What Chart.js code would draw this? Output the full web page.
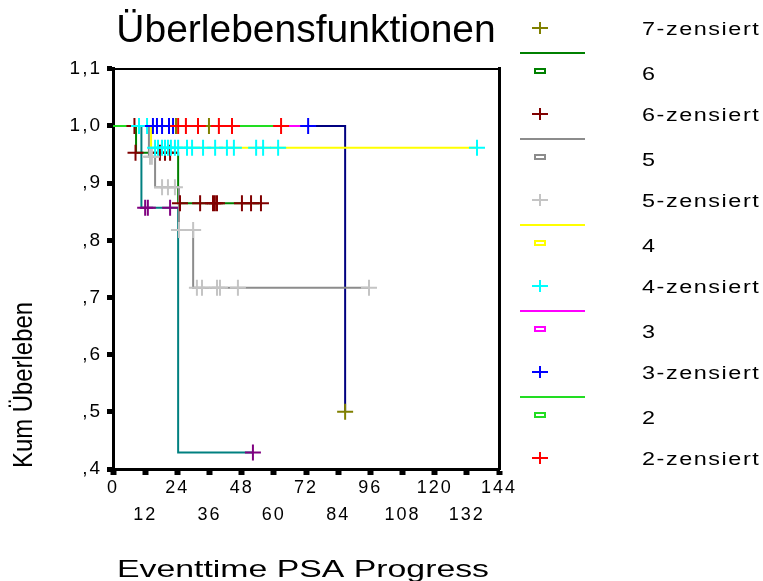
<!DOCTYPE html>
<html lang="de">
<head>
<meta charset="UTF-8">
<title>Überlebensfunktionen</title>
<script src="https://cdn.jsdelivr.net/npm/chart.js"></script>
<style>
  body { margin: 0; background: #fff; font-family: "Liberation Sans", Arial, sans-serif; }
  #wrap { position: relative; width: 763px; height: 581px; }
  #legend { position: absolute; left: 0; top: 0; width: 763px; height: 478px; overflow: hidden; pointer-events: none; }
  .sep { position: absolute; left: 520px; width: 65px; height: 2px; }
  .box { position: absolute; left: 534px; width: 8px; height: 2px; border: 2px solid; }
  .plus { position: absolute; left: 532px; width: 16px; height: 12px; }
  .plus::before, .plus::after { content: ''; position: absolute; background: currentColor; }
  .plus::before { left: 0; top: 5px; width: 16px; height: 2px; }
  .plus::after { left: 7px; top: 0; width: 2px; height: 12px; }
  .lbl { position: absolute; left: 642px; font-size: 18px; line-height: 20px; letter-spacing: 1.2px;
         transform: scaleX(1.3); transform-origin: left center; white-space: nowrap; color: #000; }
</style>
</head>
<body>
<div id="wrap">
  <canvas id="km" width="763" height="581"></canvas>
  <div id="legend"></div>
</div>

<script>
// Gruppen und Farben
const groupNames = ['1', '2', '3', '4', '5', '6', '7'];
const lineColors = ['#008080', '#22dd22', '#ff00ff', '#ffff00', '#8c8c8c', '#008000', '#000080'];
const censorColors = ['#800080', '#ff0000', '#0000ff', '#00ffff', '#c4c4c4', '#800000', '#808000'];

const xTitle = 'Eventtime PSA Progress';
const yTitle = 'Kum Überleben';

// Gruppe 1
const g1Time = [0, 10.6, 24.3, 52.2];
const g1Surv = [1, 0.857, 0.429, 0.429];
const g1CensTime = [12, 13, 21.3, 52.2];
const g1CensSurv = [0.857, 0.857, 0.857, 0.429];

// Gruppe 2
const g2Time = [0, 62.7];
const g2Surv = [1, 1];
const g2CensTime = [24.3, 27.2, 31.7, 39.5, 44.4, 62.7];
const g2CensSurv = [1, 1, 1, 1, 1, 1];

// Gruppe 3
const g3Time = [0, 72.8];
const g3Surv = [1, 1];
const g3CensTime = [14.9, 16.4, 18.3, 20.9, 22.4, 72.8];
const g3CensSurv = [1, 1, 1, 1, 1, 1];

// Gruppe 4
const g4Time = [0, 14.2, 135.8];
const g4Surv = [1, 0.962, 0.962];
const g4CensTime = [9.7, 12.7, 15.7, 16.8, 18.3, 19.4, 20.5, 21.6, 23.1, 24.3, 27.6, 29.5,
                    33.6, 38.1, 42.5, 45.1, 53.4, 56.0, 61.6, 135.8];
const g4CensSurv = [1, 1, 0.962, 0.962, 0.962, 0.962, 0.962, 0.962, 0.962, 0.962, 0.962, 0.962,
                    0.962, 0.962, 0.962, 0.962, 0.962, 0.962, 0.962, 0.962];

// Gruppe 5
const g5Time = [0, 13.4, 15.7, 24.6, 29.9, 95.5];
const g5Surv = [1, 0.946, 0.893, 0.818, 0.717, 0.717];
const g5CensTime = [13.8, 14.5, 18.3, 20.5, 23.1, 24.6, 29.9, 31.3, 33.2, 38.8, 39.9, 46.6, 95.5];
const g5CensSurv = [0.946, 0.946, 0.893, 0.893, 0.893, 0.818, 0.818, 0.717, 0.717, 0.717, 0.717, 0.717, 0.717];

// Gruppe 6
const g6Time = [0, 8.6, 24.3, 55.2];
const g6Surv = [1, 0.953, 0.865, 0.865];
const g6CensTime = [8.0, 8.4, 17.5, 19.4, 21.3, 25.0, 32.5, 37.3, 38.0, 38.8, 48.1, 51.5, 55.2];
const g6CensSurv = [1, 0.953, 0.953, 0.953, 0.953, 0.865, 0.865, 0.865, 0.865, 0.865, 0.865, 0.865, 0.865];

// Gruppe 7
const g7Time = [0, 86.6];
const g7Surv = [1, 0.5];
const g7CensTime = [23.5, 35.8, 86.6];
const g7CensSurv = [1, 1, 0.5];

const groups = [
    { time: g1Time, surv: g1Surv, censTime: g1CensTime, censSurv: g1CensSurv },
    { time: g2Time, surv: g2Surv, censTime: g2CensTime, censSurv: g2CensSurv },
    { time: g3Time, surv: g3Surv, censTime: g3CensTime, censSurv: g3CensSurv },
    { time: g4Time, surv: g4Surv, censTime: g4CensTime, censSurv: g4CensSurv },
    { time: g5Time, surv: g5Surv, censTime: g5CensTime, censSurv: g5CensSurv },
    { time: g6Time, surv: g6Surv, censTime: g6CensTime, censSurv: g6CensSurv },
    { time: g7Time, surv: g7Surv, censTime: g7CensTime, censSurv: g7CensSurv }
];

// Zeichenreihenfolge: Gruppe 2 oben, Gruppe 1 ganz unten
const drawOrder = [1, 2, 3, 4, 5, 6, 0];

const toPoints = (xs, ys) => xs.map((x, i) => ({ x: x, y: ys[i] }));

const datasets = [];
drawOrder.forEach(i => {
    datasets.push({
        label: groupNames[i] + '-zensiert',
        data: toPoints(groups[i].censTime, groups[i].censSurv),
        showLine: false,
        pointStyle: 'cross',
        pointRadius: 8,
        pointBorderWidth: 2,
        borderColor: censorColors[i],
        backgroundColor: censorColors[i]
    });
});
drawOrder.forEach(i => {
    datasets.push({
        label: groupNames[i],
        data: toPoints(groups[i].time, groups[i].surv),
        stepped: true,
        borderColor: lineColors[i],
        borderWidth: 2,
        pointRadius: 0,
        fill: false
    });
});

function kommaFormat(v) {
    const s = (Math.round(v * 10) / 10).toFixed(1).replace('.', ',');
    return s.startsWith('0') ? s.slice(1) : s;
}

// SPSS-artige, breit gezogene Schrift fuer Ticks und Achsentitel
const spssText = {
    id: 'spssText',
    beforeDatasetsDraw(chart) { chart.ctx.letterSpacing = '2px'; },
    afterDraw(chart) {
        const ctx = chart.ctx;
        const area = chart.chartArea;
        ctx.save();
        ctx.letterSpacing = '0px';
        ctx.fillStyle = '#000';
        ctx.textBaseline = 'middle';

        // x-Achsentitel
        ctx.font = '24px "Liberation Sans", Arial, sans-serif';
        let w = ctx.measureText(xTitle).width;
        ctx.save();
        ctx.translate((area.left + area.right) / 2 - 3, 570);
        ctx.scale(372 / w, 1);
        ctx.textAlign = 'center';
        ctx.fillText(xTitle, 0, 0);
        ctx.restore();

        // y-Achsentitel
        ctx.font = '27px "Liberation Sans", Arial, sans-serif';
        w = ctx.measureText(yTitle).width;
        ctx.save();
        ctx.translate(25, area.bottom - 1);
        ctx.rotate(-Math.PI / 2);
        ctx.scale(166 / w, 1);
        ctx.textAlign = 'left';
        ctx.fillText(yTitle, 0, 0);
        ctx.restore();

        ctx.restore();
    }
};

Chart.defaults.font.family = '"Liberation Sans", Arial, sans-serif';
Chart.defaults.color = '#000';

new Chart(document.getElementById('km'), {
    type: 'line',
    data: { datasets: datasets },
    plugins: [spssText],
    options: {
        responsive: false,
        animation: false,
        layout: { padding: { right: 264 } },
        plugins: {
            legend: { display: false },
            tooltip: { enabled: false },
            title: {
                display: true,
                text: 'Überlebensfunktionen',
                fullSize: false,
                font: { size: 39, weight: 'normal' },
                padding: { top: 8, bottom: 14 }
            }
        },
        scales: {
            x: {
                type: 'linear',
                min: 0,
                max: 144,
                afterFit: s => { s.height = 112; },
                border: { color: '#000', width: 3 },
                grid: { drawOnChartArea: false, tickLength: 6, tickWidth: 6, tickColor: '#000' },
                ticks: {
                    z: 1,
                    stepSize: 12,
                    autoSkip: false,
                    maxRotation: 0,
                    padding: 0,
                    font: { size: 18, lineHeight: 1.5 },
                    callback: v => (v % 24 === 0 ? String(v) : ['', String(v)])
                }
            },
            y: {
                min: 0.4,
                max: 1.1,
                afterFit: s => { s.width = 113; },
                border: { color: '#000', width: 3 },
                grid: { drawOnChartArea: false, tickLength: 6, tickWidth: 5, tickColor: '#000' },
                ticks: {
                    z: 1,
                    stepSize: 0.1,
                    padding: 5,
                    font: { size: 19 },
                    callback: v => kommaFormat(v)
                }
            },
            xTop: {
                type: 'linear', position: 'top', min: 0, max: 144,
                border: { color: '#000', width: 2 },
                grid: { display: false, drawTicks: false },
                ticks: { display: false }
            },
            yRight: {
                type: 'linear', position: 'right', min: 0.4, max: 1.1,
                border: { color: '#000', width: 3 },
                grid: { display: false, drawTicks: false },
                ticks: { display: false }
            }
        }
    }
});

// Legende rechts (Gruppen 7 bis 2, darunter abgeschnitten)
const legendGroups = [6, 5, 4, 3, 2, 1];
const legend = document.getElementById('legend');
legendGroups.forEach((gi, k) => {
    const top = 53 + 86 * (k - 1);
    const add = (cls, y, color, text) => {
        const el = document.createElement('div');
        el.className = cls;
        el.style.top = y + 'px';
        if (cls === 'sep') el.style.background = color;
        else if (cls === 'box') el.style.borderColor = color;
        else if (color) el.style.color = color;
        if (text) el.textContent = text;
        legend.appendChild(el);
    };
    add('sep', top - 1, lineColors[gi]);
    add('box', top + 15, lineColors[gi]);
    add('lbl', top + 11, null, groupNames[gi]);
    add('plus', top + 55, censorColors[gi]);
    add('lbl', top + 52, null, groupNames[gi] + '-zensiert');
});
</script>
</body>
</html>
